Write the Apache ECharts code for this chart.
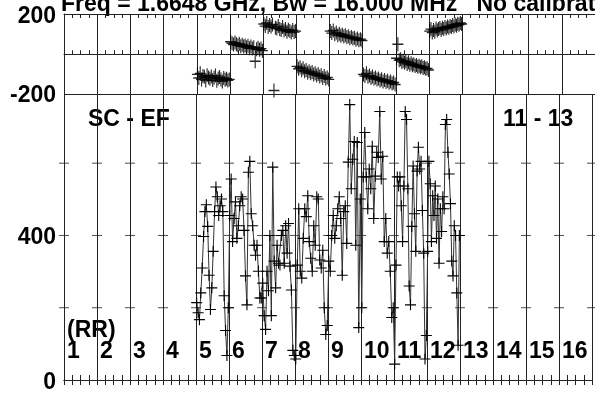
<!DOCTYPE html>
<html>
<head>
<meta charset="utf-8">
<script src="https://cdn.jsdelivr.net/npm/echarts@6/dist/echarts.min.js"></script>
<style>
html,body{margin:0;padding:0;background:#fff;}
#c{width:595px;height:394px;}
</style>
</head>
<body>
<div id="c"></div>
<script>
// ---- data ----
const baselines = [5, 6, 7, 8, 9, 10, 11, 12];
const rrLabels = ['1','2','3','4','5','6','7','8','9','10','11','12','13','14','15','16'];
const phaseTicks = [-200, 200];
const ampTicks = [0, 400];
const ampGuideLevels = [200, 400, 600];

const amp5  = [214, 186, 167, 241, 310, 397, 466, 485, 425, 290, 195, 255, 356, 466, 534, 507, 455, 482, 501, 466, 233, 137, 68, 200];
const amp6  = [455, 556, 383, 447, 493, 392, 427, 482, 507, 501, 414, 288, 208, 575, 605, 460, 427, 373, 345, 373, 301, 227, 227];
const amp7  = [268, 178, 140, 301, 247, 400, 178, 589, 329, 255, 373, 323, 318, 400, 414, 323, 427, 351, 433, 315, 249, 82, 68];
const amp8  = [58, 318, 474, 301, 282, 392, 474, 452, 510, 383, 337, 301, 427, 373, 507, 501, 332, 310, 359, 200, 126, 151];
const amp9  = [329, 301, 400, 455, 392, 427, 474, 507, 447, 290, 466, 482, 378, 603, 762, 529, 611, 660, 373, 657, 145, 501];
const amp10 = [200, 562, 685, 562, 474, 584, 529, 647, 447, 564, 630, 616, 743, 556, 619, 383, 447, 351, 383, 301, 173, 200];
const amp11 = [44, 318, 562, 537, 562, 482, 383, 537, 743, 721, 529, 260, 208, 425, 592, 460, 356, 578, 644, 584, 605, 469, 351, 58, 123];
const amp12 = [356, 605, 543, 383, 510, 455, 537, 392, 501, 323, 474, 411, 507, 474, 707, 721, 630, 570, 488, 329, 288, 427, 400, 241, 96, 400];

const phase5  = [-100, -118, -95, -125, -108, -112, -130, -104, -115, -122, -110, -128, -117, -106, -132, -120, -113, -125, -135, -118, -127, -122, -130, -125];
const phase6  = [62, 55, 48, 58, 50, 45, 52, 40, 47, 38, 44, 35, 42, 30, 38, 28, 35, -35, 25, 32, 22, 28, 18];
const phase7  = [150, 140, 155, 135, 145, 138, 148, -180, 132, 128, 140, 125, 120, 135, 118, 125, 112, 122, 115, 108, 120, 110, 115];
const phase8  = [-60, -72, -65, -80, -70, -85, -78, -92, -84, -95, -88, -100, -94, -105, -98, -110, -104, -118, -108, -120, -115, -125];
const phase9  = [115, 105, 118, 100, 108, 95, 102, 92, 98, 88, 95, 85, 90, 80, 86, 78, 82, 72, 78, 70, 75, 68];
const phase10 = [-100, -108, -95, -112, -105, -118, -110, -122, -115, -125, -120, -130, -124, -135, -128, -138, -132, -142, -136, -145, -140, -150];
const phase11 = [-20, 50, -30, -25, -38, -32, -42, -35, -48, -40, -52, -45, -55, -50, -58, -54, -62, -57, -65, -60, -68, -64, -72, -70, -78];
const phase12 = [115, 125, 108, 120, 112, 128, 118, 125, 130, 120, 132, 126, 135, 128, 138, 132, 140, 135, 145, 138, 148, 142, 152, 146, 155, 150];

const ampSets = [amp5, amp6, amp7, amp8, amp9, amp10, amp11, amp12];
const phaseSets = [phase5, phase6, phase7, phase8, phase9, phase10, phase11, phase12];

// time samples spread across each baseline's slot
function build(sets) {
  const out = [];
  sets.forEach((arr, k) => {
    const b = baselines[k];
    const n = arr.length;
    arr.forEach((v, i) => out.push([(b - 1) + (i + 0.5) / n, v]));
  });
  return out;
}
const ampData = build(ampSets);
const phaseData = build(phaseSets);
const guideData = [];
for (let k = 0; k <= 16; k++) ampGuideLevels.forEach(l => guideData.push([k, l]));

const FONT = 'Liberation Sans, Arial, Helvetica, sans-serif';
const FS = 23;
const PLUS = 'path://M0,4.5H10V5.5H0ZM4.5,0H5.5V10H4.5Z';
const LINE = '#222';

const chart = echarts.init(document.getElementById('c'), null, {renderer: 'canvas'});
const G0 = {left: 64, top: 14, width: 533, height: 80.5};
const G1 = {left: 64, top: 94.5, width: 533, height: 288.8};

function xBase(extra) {
  return Object.assign({
    type: 'value', min: 0, max: 16, interval: 1,
    axisLine: {show: true, lineStyle: {color: LINE, width: 1}},
    axisTick: {show: true, inside: true, length: 4, lineStyle: {color: LINE}},
    minorTick: {show: true, splitNumber: 4, length: 4, lineStyle: {color: LINE}},
    axisLabel: {show: false},
    splitLine: {show: false}
  }, extra);
}

chart.setOption({
  animation: false,
  backgroundColor: '#fff',
  grid: [G0, G1],
  xAxis: [
    xBase({gridIndex: 0, position: 'bottom', splitLine: {show: true, lineStyle: {color: LINE, width: 1}}}),
    xBase({gridIndex: 0, position: 'top'}),
    xBase({gridIndex: 1, position: 'top', axisTick: {show: true, inside: true, length: 5, lineStyle: {color: LINE}}, minorTick: {show: true, splitNumber: 4, length: 5, lineStyle: {color: LINE}}}),
    xBase({gridIndex: 1, position: 'bottom', axisTick: {show: true, inside: true, length: 5, lineStyle: {color: LINE}}, minorTick: {show: true, splitNumber: 4, length: 5, lineStyle: {color: LINE}}, splitLine: {show: true, lineStyle: {color: LINE, width: 1}}}),
    {
      gridIndex: 1, type: 'value', min: 0, max: 16, interval: 1, position: 'bottom', offset: -28,
      axisLine: {show: false}, axisTick: {show: false}, splitLine: {show: false},
      axisLabel: {show: true, color: '#000', fontSize: FS, fontWeight: 'bold', fontFamily: FONT,
        align: 'left', verticalAlign: 'middle', margin: 0, padding: [0, 0, 0, 3],
        formatter: v => (rrLabels[v] !== undefined ? rrLabels[v] : '')}
    }
  ],
  yAxis: [
    {
      gridIndex: 0, type: 'value', min: -200, max: 200, interval: 200,
      axisLine: {show: true, lineStyle: {color: LINE}}, axisTick: {show: false},
      splitLine: {show: true, lineStyle: {color: LINE, width: 1}},
      axisLabel: {color: '#000', fontSize: FS, fontWeight: 'bold', fontFamily: FONT, margin: 8,
        formatter: v => phaseTicks.indexOf(v) >= 0 ? (v > 0 ? '{t|' + v + '}' : '{b|' + v + '}') : '',
        rich: {
          t: {fontSize: FS, fontWeight: 'bold', fontFamily: FONT, color: '#000', padding: [6, 0, 0, 0]},
          b: {fontSize: FS, fontWeight: 'bold', fontFamily: FONT, color: '#000', padding: [3, 0, 0, 0]}
        }}
    },
    {
      gridIndex: 1, type: 'value', min: 0, max: 790, interval: 200,
      axisLine: {show: true, lineStyle: {color: LINE}}, axisTick: {show: false},
      splitLine: {show: false},
      axisLabel: {color: '#000', fontSize: FS, fontWeight: 'bold', fontFamily: FONT, margin: 8,
        formatter: v => ampTicks.indexOf(v) >= 0 ? '{n|' + v + '}' : '',
        rich: {n: {fontSize: FS, fontWeight: 'bold', fontFamily: FONT, color: '#000', padding: [5, 0, 0, 0]}}}
    }
  ],
  series: [
    {
      type: 'scatter', xAxisIndex: 3, yAxisIndex: 1, data: guideData,
      symbol: 'rect', symbolSize: [10, 1], itemStyle: {color: LINE}, silent: true, z: 1
    },
    {
      type: 'scatter', xAxisIndex: 0, yAxisIndex: 0, data: phaseData,
      symbol: PLUS, symbolSize: [11, 14], itemStyle: {color: '#000', opacity: 0.85}, z: 3
    },
    {
      type: 'line', xAxisIndex: 3, yAxisIndex: 1, data: ampData,
      symbol: PLUS, symbolSize: 11, showSymbol: true,
      lineStyle: {color: '#333', width: 1},
      itemStyle: {color: '#000'}, z: 3
    }
  ],
  graphic: [
    {type: 'text', left: 61, top: -7, style: {text: 'Freq = 1.6648 GHz, Bw = 16.000 MHz   No calibration', font: 'bold ' + FS + 'px ' + FONT, fill: '#000'}},
    {type: 'text', x: 88, y: 120, style: {text: 'SC - EF', font: 'bold ' + FS + 'px ' + FONT, fill: '#000', verticalAlign: 'middle'}},
    {type: 'text', x: 503, y: 120, style: {text: '11 - 13', font: 'bold ' + FS + 'px ' + FONT, fill: '#000', verticalAlign: 'middle'}},
    {type: 'text', x: 67, y: 331, style: {text: '(RR)', font: 'bold ' + FS + 'px ' + FONT, fill: '#000', verticalAlign: 'middle'}}
  ]
});
</script>
</body>
</html>
